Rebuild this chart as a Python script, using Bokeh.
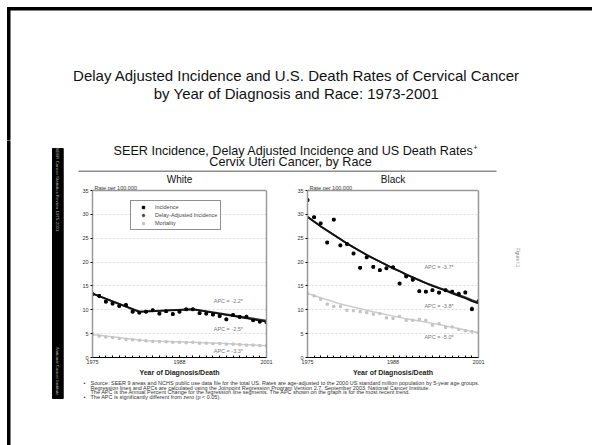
import math
from bokeh.plotting import figure
from bokeh.layouts import column, row
from bokeh.models import Range1d, FixedTicker, Legend, LegendItem, LinearAxis, Span
from bokeh.core.properties import value
from bokeh.embed import file_html
from bokeh.resources import INLINE

FONT = "Liberation Sans"

# ---------------- data ----------------
years = list(range(1975, 2002))
x_tick_labels = [1975, 1988, 2001]
y_ticks = [0, 5, 10, 15, 20, 25, 30, 35]

white_inc = [13.3, 12.9, 11.7, 11.3, 10.8, 11.0, 9.6, 9.4, 9.6, 9.9, 9.2, 9.7, 9.1, 9.6,
             10.1, 10.1, 9.3, 9.2, 9.0, 8.7, 8.0, 8.9, 8.5, 8.5, 7.8, 7.5, 7.4]
white_delay = [13.3, 12.9, 11.7, 11.3, 10.8, 11.0, 9.6, 9.4, 9.6, 9.9, 9.2, 9.7, 9.1, 9.6,
               10.1, 10.1, 9.3, 9.2, 9.0, 8.7, 8.0, 8.9, 8.5, 8.6, 7.9, 7.6, 7.6]
white_mort = [4.8, 4.5, 4.3, 4.2, 4.0, 3.8, 3.7, 3.6, 3.5, 3.4, 3.3, 3.3, 3.2, 3.2,
              3.1, 3.2, 3.0, 3.0, 2.9, 2.9, 2.8, 2.8, 2.7, 2.6, 2.6, 2.5, 2.5]
white_inc_fit_years = [1975, 1982, 1990, 2001]
white_inc_fit = [13.4, 9.6, 10.1, 7.5]
white_delay_fit = [13.4, 9.6, 10.1, 7.7]
white_mort_fit_years = [1975, 1983, 1994, 2001]
white_mort_fit = [4.8, 3.5, 3.0, 2.45]

black_inc = [33.0, 29.4, 28.1, 24.1, 28.9, 23.5, 23.8, 21.8, 18.8, 21.0, 19.0, 18.3, 18.7, 18.9,
             15.5, 17.0, 16.3, 13.9, 13.8, 14.1, 13.6, 14.1, 13.8, 13.3, 13.6, 10.1, 11.6]
black_delay = [33.0, 29.4, 28.1, 24.1, 28.9, 23.5, 23.8, 21.8, 18.8, 21.0, 19.0, 18.3, 18.7, 18.9,
               15.5, 17.0, 16.3, 13.9, 13.8, 14.1, 13.6, 14.1, 13.8, 13.4, 13.7, 10.3, 11.9]
black_mort = [13.4, 12.9, 12.2, 11.2, 10.7, 10.7, 9.9, 9.8, 9.6, 9.4, 9.1, 9.2, 8.3, 8.2,
              8.6, 7.8, 7.8, 8.0, 7.8, 6.8, 7.1, 6.3, 6.4, 5.9, 5.6, 5.4, 5.2]
black_inc_fit = [29.5, 28.5, 27.5, 26.6, 25.7, 24.8, 23.9, 23.1, 22.3, 21.5, 20.8, 20.1, 19.4, 18.7,
                 18.1, 17.4, 16.8, 16.2, 15.6, 15.0, 14.5, 14.0, 13.4, 12.9, 12.4, 11.8, 11.3]
black_delay_fit = [29.5, 28.5, 27.5, 26.6, 25.7, 24.8, 23.9, 23.1, 22.3, 21.5, 20.8, 20.1, 19.4, 18.7,
                   18.1, 17.4, 16.8, 16.2, 15.6, 15.1, 14.6, 14.1, 13.6, 13.1, 12.6, 12.0, 11.5]
black_mort_fit_years = [1975, 1980, 1985, 1990, 1995, 2001]
black_mort_fit = [13.4, 11.2, 9.6, 8.1, 6.9, 5.2]

white_apc = ["APC = -2.2*", "APC = -2.5*", "APC = -3.3*"]
white_apc_x = [1995.3, 1995.3, 1995.3]
white_apc_y = [11.8, 5.9, 1.4]
black_apc = ["APC = -3.7*", "APC = -3.8*", "APC = -5.0*"]
black_apc_x = [1995.0, 1995.0, 1995.0]
black_apc_y = [19.0, 10.9, 4.2]

slide_title = ["Delay Adjusted Incidence and U.S. Death Rates of Cervical Cancer",
               "by Year of Diagnosis and Race: 1973-2001"]
chart_title = ["SEER Incidence, Delay Adjusted Incidence and US Death Rates",
               "Cervix Uteri Cancer, by Race"]
y_label = "Rate per 100,000"
footnotes = ["Source: SEER 9 areas and NCHS public use data file for the total US. Rates are age-adjusted to the 2000 US standard million population by 5-year age groups.",
             "Regression lines and APCs are calculated using the Joinpoint Regression Program Version 2.7, September 2003, National Cancer Institute.",
             "The APC is the Annual Percent Change for the regression line segments. The APC shown on the graph is for the most recent trend.",
             "The APC is significantly different from zero (p < 0.05)."]
footnote_bullets = ["\u2022", "", "", "\u2022"]
bar_texts = ["SEER Cancer Statistics Review 1975-2001", "National Cancer Institute"]

Y_TOP = 38.36  # frame top (room for panel heading above the 35 line)


def deco(w, h):
    p = figure(width=w, height=h, x_range=Range1d(0, w), y_range=Range1d(h, 0),
               output_backend="svg", toolbar_location=None, x_axis_location=None,
               y_axis_location=None, title_location=None, min_border=0)
    p.grid.visible = False
    p.outline_line_color = None
    p.background_fill_color = "white"
    p.border_fill_color = "white"
    return p


def txt(p, x, y, t, size, color="#000000", align="center", baseline="middle", style="normal", angle=0.0):
    p.text(x=x, y=y, text=t, text_font=value(FONT), text_font_size=value(size),
           text_color=color, text_align=align, text_baseline=baseline,
           text_font_style=style, angle=angle)


# ---------------- top slide area (page y 0..140) ----------------
top = deco(592, 140)
top.quad(left=7, right=9.5, top=7, bottom=140, color="black")
top.quad(left=7, right=592, top=7, bottom=9.5, color="black")
txt(top, [296, 296], [75, 93], slide_title, "15px", color="#111111")

# ---------------- left decoration (page x 0..70, y 140..445) ----------------
ldeco = deco(70, 305)
ldeco.quad(left=7, right=9.5, top=0, bottom=305, color="black")
ldeco.quad(left=52, right=62.7, top=8, bottom=258, color="black")
txt(ldeco, [57.4, 57.4], [49, 231], bar_texts, "4.4px", color="#bbbbbb", angle=-math.pi / 2)

# ---------------- chart title (page x 70..592, y 140..174) ----------------
ct = deco(522, 34)
txt(ct, [223, 220], [10, 21.7], chart_title, "12.6px", color="#111111")
txt(ct, [405], [7], ["+"], "7px", color="#111111")
ct.line(x=[8, 426], y=[30.7, 30.7], line_color="#8c8c8c", line_width=1.5)


# ---------------- panels (page y 174..378) ----------------
def panel(w, mb_left, mb_right, name, inc, delay, mort, inc_fx, inc_f, del_f, mort_fx, mort_f,
          apc_x, apc_y, apc_t, with_legend):
    p = figure(width=w, height=204, x_range=Range1d(1975, 2001), y_range=Range1d(0, Y_TOP),
               output_backend="svg", toolbar_location=None, title_location=None,
               min_border_left=mb_left, min_border_right=mb_right, min_border_top=0,
               min_border_bottom=21)
    p.outline_line_color = None
    p.background_fill_color = "white"
    p.border_fill_color = "white"
    p.xgrid.visible = False
    p.ygrid.grid_line_color = "#d4d4d4"
    p.ygrid.grid_line_dash = "2 2"
    p.ygrid.grid_line_width = 0.8

    p.xaxis.ticker = FixedTicker(ticks=x_tick_labels, minor_ticks=years)
    p.xaxis.major_tick_in = 2
    p.xaxis.major_tick_out = 0
    p.xaxis.minor_tick_in = 2
    p.xaxis.minor_tick_out = 0
    p.xaxis.axis_line_color = "black"
    p.xaxis.major_label_standoff = 2
    p.xaxis.axis_label = "Year of Diagnosis/Death"
    p.xaxis.axis_label_text_font = FONT
    p.xaxis.axis_label_text_font_size = "7px"
    p.xaxis.axis_label_text_font_style = "bold"
    p.xaxis.axis_label_text_color = "#222222"
    p.xaxis.axis_label_standoff = 2

    p.yaxis.ticker = FixedTicker(ticks=y_ticks)
    p.yaxis.bounds = (0, 35)
    p.yaxis.minor_tick_line_color = None
    p.yaxis.major_tick_in = 0
    p.yaxis.major_tick_out = 2
    p.yaxis.axis_line_color = "#999999"
    p.yaxis.axis_line_width = 1.5
    p.yaxis.major_label_standoff = 2
    for ax in (p.xaxis, p.yaxis):
        ax.major_label_text_font = FONT
        ax.major_label_text_font_size = "5.5px"
        ax.major_label_text_color = "#333333"

    # right and top edges of the plotting box
    right_ax = LinearAxis(ticker=FixedTicker(ticks=[]), bounds=(0, 35),
                          axis_line_color="#999999", axis_line_width=1.5,
                          major_tick_line_color=None, minor_tick_line_color=None)
    p.add_layout(right_ax, "right")
    p.add_layout(Span(location=35, dimension="width", line_color="#999999", line_width=1.5))

    p.line(mort_fx, mort_f, line_color="#cccccc", line_width=1.5)
    p.line(inc_fx, del_f, line_color="#333333", line_width=2)
    p.line(inc_fx, inc_f, line_color="#111111", line_width=1.6)
    r_m = p.scatter(years, mort, marker="square", size=2.2, color="#c4c4c4")
    r_d = p.scatter(years, delay, marker="circle", size=2.8, color="#444444")
    r_i = p.scatter(years, inc, marker="square", size=2.6, color="#000000")

    p.text(x=apc_x, y=apc_y, text=apc_t, text_font=value(FONT), text_font_size=value("5.5px"),
           text_color="#777777", text_align="center", text_baseline="middle")

    # panel heading and unit label
    p.text(x=[1988], y=[37.3], text=[name], text_font=value(FONT), text_font_size=value("10px"),
           text_color="#111111", text_align="center", text_baseline="middle")
    p.text(x=[1975], y=[35.63], text=[y_label], text_font=value(FONT), text_font_size=value("5.5px"),
           text_color="#333333", text_align="left", text_baseline="middle", x_offset=2)

    if with_legend:
        leg = Legend(items=[LegendItem(label="Incidence", renderers=[r_i]),
                            LegendItem(label="Delay-Adjusted Incidence", renderers=[r_d]),
                            LegendItem(label="Mortality", renderers=[r_m])],
                     location=(38, 127))
        leg.label_text_font = FONT
        leg.label_text_font_size = "5.5px"
        leg.label_height = 6
        leg.glyph_height = 6
        leg.glyph_width = 18
        leg.spacing = 2
        leg.padding = 3
        leg.margin = 0
        leg.label_standoff = 3
        leg.border_line_color = "#222222"
        leg.border_line_width = 1
        leg.background_fill_alpha = 1.0
        p.add_layout(leg, "center")
    return p


wp = panel(221, 22, 25, "White", white_inc, white_delay, white_mort, white_inc_fit_years,
           white_inc_fit, white_delay_fit, white_mort_fit_years, white_mort_fit,
           white_apc_x, white_apc_y, white_apc, True)
bp = panel(209, 16, 22, "Black", black_inc, black_delay, black_mort, years, black_inc_fit,
           black_delay_fit, black_mort_fit_years, black_mort_fit, black_apc_x, black_apc_y,
           black_apc, False)

rdeco = deco(92, 204)
txt(rdeco, [16.7], [92.7], ["Figure I.1"], "4.6px", color="#888888", angle=-math.pi / 2)

# ---------------- footnotes (page y 378..445) ----------------
fn = deco(522, 67)
fn_y = [4.5, 9.0, 13.5, 18.0]
txt(fn, [13, 13, 13, 13], fn_y, footnote_bullets, "5.5px", color="#333333", align="left")
txt(fn, [20, 20, 20, 20], fn_y, footnotes, "5.5px", color="#333333", align="left")

layout = column(top, row(ldeco, column(ct, row(wp, bp, rdeco), fn)))
open("out.html", "w").write(file_html(layout, INLINE))
